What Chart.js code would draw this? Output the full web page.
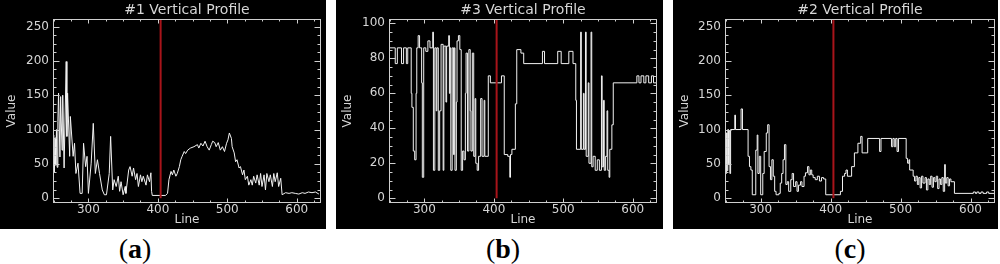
<!DOCTYPE html>
<html>
<head>
<meta charset="utf-8">
<script src="https://cdn.jsdelivr.net/npm/chart.js@4.4.1/dist/chart.umd.min.js"></script>
<style>
    html, body { margin: 0; padding: 0; background: #fff; }
    #wrap { position: relative; width: 1000px; height: 264px; overflow: hidden; }
    .panel { position: absolute; top: 0; height: 229px; background: #000; }
    .panel canvas { display: block; }
    .tag { position: absolute; top: 235px; font: 28px/28px "Liberation Serif", "Times New Roman", serif; color: #000; transform: translateX(-50%); }
</style>
</head>
<body>
<div id="wrap">
    <div class="panel" style="left:0;width:326px"><canvas id="chart-a" width="326" height="229"></canvas></div>
    <div class="panel" style="left:336px;width:327px"><canvas id="chart-b" width="327" height="229"></canvas></div>
    <div class="panel" style="left:673px;width:325px"><canvas id="chart-c" width="325" height="229"></canvas></div>
    <div class="tag" style="left:135px">(<b>a</b>)</div>
    <div class="tag" style="left:503px">(<b>b</b>)</div>
    <div class="tag" style="left:850px">(<b>c</b>)</div>
</div>
<script>
// profile #1 (panel a)
const linesA = [
    249,250,251,252,253,254,255,256,257,259,
    260,262,263,265,268,269,270,273,274,278,
    280,282,285,288,291,293,296,298,300,304,
    307,310,313,316,320,323,326,330,332,335,
    337,340,343,345,347,350,353,354,358,360,
    363,365,368,370,372,375,377,379,383,385,
    388,390,391,392,411,414,416,419,421,423,
    426,428,431,433,435,438,440,443,447,452,
    457,459,462,465,468,471,474,477,479,482,
    484,487,490,493,496,499,501,503,506,507,
    510,512,514,517,519,522,524,526,529,531,
    534,536,538,541,543,546,548,550,553,555,
    557,560,562,565,567,569,572,574,577,579,
    584,589,593,598,603,608,612,617,622,627,
    632
];
const valuesA = [
    60,92,38,88,48,100,45,112,153,60,
    148,70,150,44,199,90,153,61,119,61,
    80,36,51,7,7,80,46,61,7,51,
    109,36,56,36,12,5,5,36,90,12,
    27,17,32,10,24,5,17,7,41,46,
    32,44,27,36,17,34,24,32,19,34,
    24,37,10,4,4,7,27,39,34,41,
    32,36,46,56,61,68,65,70,73,75,
    78,73,80,76,83,75,70,78,83,81,
    75,81,70,75,68,80,85,95,87,75,
    66,53,56,44,46,34,41,27,32,19,
    27,19,32,22,34,19,36,17,34,12,
    36,24,34,17,36,24,37,17,29,5,
    8,7,8,7,6,8,7,9,8,9,
    6
];

// profile #3 (panel b)
const linesB = [
    249,258,261,267,270,274,276,281,282,284,
    286,288,289,291,293,296,297,299,302,305,
    308,312,313,315,317,318,320,322,324,327,
    328,331,332,335,336,337,338,340,342,343,
    344,346,347,349,351,353,355,357,359,360,
    362,364,366,367,369,371,373,374,376,378,
    381,383,386,387,392,395,411,415,420,423,
    424,426,431,433,439,443,470,473,492,497,
    508,514,518,519,525,526,529,530,532,533,
    536,537,540,541,543,546,549,552,555,556,
    558,559,561,563,564,566,567,570,572,606,
    609,612,616,619,623,627,630,635
];
const valuesB = [
    86,77,86,77,86,77,86,60,52,27,
    22,60,86,93,86,66,12,86,84,90,
    86,95,16,86,50,86,16,50,88,16,
    87,55,87,93,60,86,16,86,25,86,
    16,55,90,93,85,16,27,22,60,83,
    27,85,50,27,83,24,57,20,16,24,
    57,24,56,24,70,66,70,25,24,12,
    25,28,54,85,83,77,84,77,84,77,
    84,77,56,28,95,28,60,28,95,24,
    66,20,95,18,24,16,22,16,70,18,
    56,16,24,50,16,12,28,42,66,70,
    66,70,66,70,66,70,66,66
];

// profile #2 (panel c)
const linesC = [
    249,250,251,252,253,254,255,256,257,263,
    264,272,274,282,284,286,288,293,295,296,
    298,300,303,305,308,310,312,314,316,318,
    320,322,326,328,330,332,334,336,338,340,
    343,345,347,350,352,354,357,359,362,364,
    367,369,371,373,375,378,381,384,387,390,
    393,414,417,420,422,424,430,434,439,443,
    445,453,470,472,487,489,491,493,495,497,
    508,510,512,513,518,520,522,524,526,528,
    530,532,535,537,539,541,543,545,547,549,
    551,553,555,557,559,561,563,564,566,568,
    570,572,577,604,607,609,612,615,618,623,
    626,635
];
const valuesC = [
    70,36,95,40,100,50,98,36,100,121,
    100,130,100,61,46,41,5,70,92,36,
    61,5,36,68,95,107,46,27,56,32,
    10,5,7,22,36,56,78,20,24,10,
    27,36,17,24,10,19,24,17,32,37,
    46,34,41,34,30,27,32,25,30,28,
    5,10,32,36,41,32,46,66,80,90,
    66,87,68,87,75,87,75,87,68,87,
    58,51,56,41,32,25,32,20,30,15,
    32,22,30,12,28,20,32,16,30,24,
    32,14,28,20,30,10,49,22,30,18,
    28,24,7,9,7,9,7,9,7,9,
    7,7
];

const xTicks = [300, 400, 500, 600];
const yTicksAC = [0, 50, 100, 150, 200, 250];
const yTicksB = [0, 20, 40, 60, 80, 100];
const markerLine = 404;

const textColor = '#d6d6d6';
const frameColor = '#cfcfcf';
Chart.defaults.font.family = '"DejaVu Sans", sans-serif';
Chart.defaults.font.size = 12;

// IDL style box with inward ticks on all four sides
const framePlugin = {
    id: 'frame',
    afterDatasetsDraw(chart, args, opts) {
        const { ctx, chartArea: a, scales: { x, y } } = chart;
        const L = Math.round(a.left) + 0.5, R = Math.round(a.right) - 0.5;
        const T = Math.round(a.top) + 0.5, B = Math.round(a.bottom) - 0.5;
        ctx.save();
        ctx.strokeStyle = frameColor;
        ctx.lineWidth = 1;
        ctx.strokeRect(L, T, R - L, B - T);
        ctx.beginPath();
        for (let v = Math.ceil(x.min / opts.xMinor) * opts.xMinor; v <= x.max; v += opts.xMinor) {
            const px = Math.round(x.getPixelForValue(v)) + 0.5;
            const len = v % opts.xMajor === 0 ? 4 : 2;
            ctx.moveTo(px, B); ctx.lineTo(px, B - len);
            ctx.moveTo(px, T); ctx.lineTo(px, T + len);
        }
        for (let v = Math.ceil(y.min / opts.yMinor) * opts.yMinor; v <= y.max; v += opts.yMinor) {
            const py = Math.round(y.getPixelForValue(v)) + 0.5;
            const len = v % opts.yMajor === 0 ? 6 : 3;
            ctx.moveTo(L, py); ctx.lineTo(L + len, py);
            ctx.moveTo(R, py); ctx.lineTo(R - len, py);
        }
        ctx.stroke();
        ctx.restore();
    }
};

const makePanel = (id, title, lines, values, yTicks, yMin, yMax, yMinor, yMajor, stepped, leftW, rightPad) => {
    const points = lines.map((line, i) => ({ x: line, y: values[i] }));
    return new Chart(document.getElementById(id), {
        type: 'line',
        data: {
            datasets: [{
                data: [{ x: markerLine, y: 0 }, { x: markerLine, y: yMax }],
                borderColor: '#a8141a',
                borderWidth: 2,
                pointRadius: 0
            }, {
                data: points,
                borderColor: '#f2f2f2',
                borderWidth: 1,
                pointRadius: 0,
                stepped: stepped
            }]
        },
        options: {
            responsive: false,
            animation: false,
            devicePixelRatio: 1,
            layout: { padding: { left: 0, right: rightPad, top: 0, bottom: 0 } },
            plugins: {
                legend: { display: false },
                tooltip: { enabled: false },
                title: {
                    display: true,
                    text: title,
                    color: textColor,
                    fullSize: false,
                    font: { size: 14, weight: 'normal' },
                    padding: { top: 2, bottom: 0.2 }
                },
                frame: { xMinor: 25, xMajor: 100, yMinor: yMinor, yMajor: yMajor }
            },
            scales: {
                x: {
                    type: 'linear',
                    min: 249,
                    max: 635,
                    grid: { display: false, drawTicks: false },
                    border: { display: false },
                    ticks: { color: textColor, padding: 0, maxRotation: 0, autoSkip: false },
                    afterBuildTicks: (s) => { s.ticks = xTicks.map(v => ({ value: v })); },
                    afterFit: (s) => { s.height = 26; },
                    title: { display: true, text: 'Line', color: textColor, padding: { top: 0, bottom: 2 } }
                },
                y: {
                    type: 'linear',
                    min: yMin,
                    max: yMax,
                    grid: { display: false, drawTicks: false },
                    border: { display: false },
                    ticks: { color: textColor, padding: 4, autoSkip: false },
                    afterBuildTicks: (s) => { s.ticks = yTicks.map(v => ({ value: v })); },
                    afterFit: (s) => { s.width = leftW; },
                    title: { display: true, text: 'Value', color: textColor, padding: { top: 5, bottom: 0 } }
                }
            }
        },
        plugins: [framePlugin]
    });
};

makePanel('chart-a', '#1 Vertical Profile', linesA, valuesA, yTicksAC, -7, 261, 12.5, 50, false, 53, 5);
makePanel('chart-b', '#3 Vertical Profile', linesB, valuesB, yTicksB, -2.7, 102.5, 5, 20, 'before', 53, 6);
makePanel('chart-c', '#2 Vertical Profile', linesC, valuesC, yTicksAC, -7, 261, 12.5, 50, 'before', 52, 3);
</script>
</body>
</html>
